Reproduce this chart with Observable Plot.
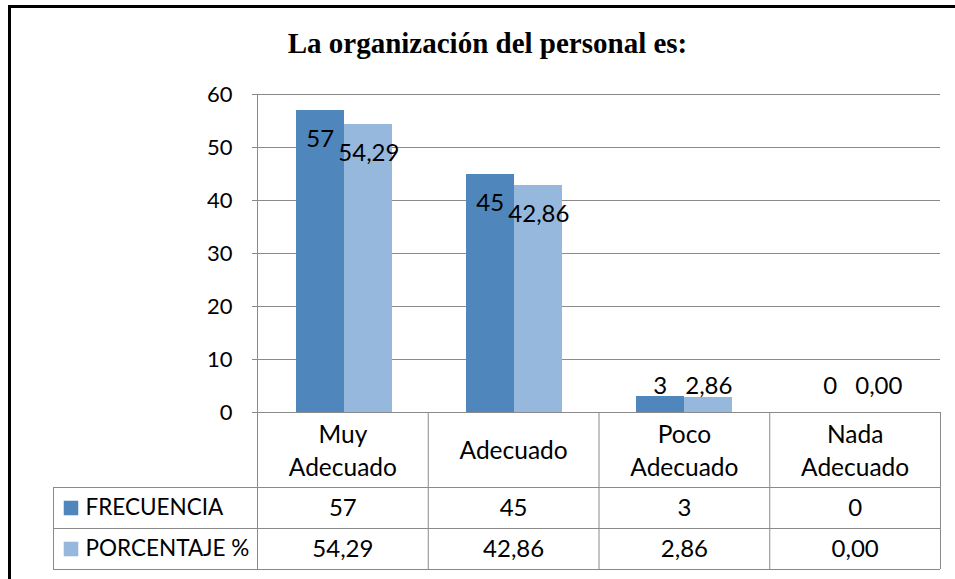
<!DOCTYPE html>
<html>
<head>
<meta charset="utf-8">
<script src="https://cdn.jsdelivr.net/npm/d3@7"></script>
<script src="https://cdn.jsdelivr.net/npm/@observablehq/plot@0.6"></script>
<style>
  html, body { margin: 0; padding: 0; background: #fff; }
  #wrap { position: relative; width: 955px; height: 579px; overflow: hidden; background: #fff; }
  #frame { position: absolute; left: 8px; top: 5px; width: 1000px; height: 700px; border-left: 3px solid #000; border-top: 3px solid #000; box-sizing: border-box; }
  #title { position: absolute; left: 0; top: 29px; width: 975px; text-align: center; font-family: "Liberation Serif", "Times New Roman", serif; font-weight: bold; font-size: 29px; line-height: 29px; color: #000; white-space: nowrap; }
  #chart { position: absolute; left: 0; top: 0; }
  #table { position: absolute; left: 0; top: 412px; }
  svg { overflow: visible; }
</style>
</head>
<body>
<div id="wrap">
  <div id="frame"></div>
  <div id="title">La organización del personal es:</div>
  <div id="chart"></div>
  <div id="table"></div>
</div>
<script>
// ---- data ----
const categories = ["Muy Adecuado", "Adecuado", "Poco Adecuado", "Nada Adecuado"];
const frecuencia = [57, 45, 3, 0];
const porcentaje = [54.29, 42.86, 2.86, 0.00];
const seriesNames = ["FRECUENCIA", "PORCENTAJE %"];
const yTicks = [0, 10, 20, 30, 40, 50, 60];

// ---- styling / layout ----
const darkBlue = "#4F86BC";
const lightBlue = "#97B8DD";
const gridColor = "#8a8a8a";
const font = "Lato, 'Open Sans', sans-serif";
const plotLeft = 257, plotRight = 940, plotTop = 94, plotBottom = 412;
const W = 955;
const bw = (plotRight - plotLeft) / categories.length;
const barW = 48.7;
const gap = (bw - 2 * barW) / 2;
const ppu = (plotBottom - plotTop) / 60;
const fmt = v => v.toFixed(2).replace(".", ",");

const rows = categories.map((c, i) => ({cat: c, i, f: frecuencia[i], p: porcentaje[i]}));

const labelY = v => Math.max(v - 29 / ppu, 26 / ppu);

const chart = Plot.plot({
  width: W,
  height: plotBottom + 2,
  marginLeft: plotLeft,
  marginRight: W - plotRight,
  marginTop: plotTop,
  marginBottom: 2,
  style: {fontFamily: font, fontSize: "22px", color: "#000", background: "transparent"},
  x: {domain: categories, padding: 0, axis: null},
  y: {domain: [0, 60], axis: null},
  marks: [
    Plot.gridY(yTicks, {stroke: gridColor, strokeOpacity: 1}),
    Plot.axisY(yTicks, {tickSize: 5, tickPadding: 20, stroke: gridColor, fill: "#000", fontSize: 22, label: null, anchor: "left"}),
    Plot.frame({anchor: "left", stroke: gridColor}),
    Plot.barY(rows, {x: "cat", y: "f", fill: darkBlue, insetLeft: gap, insetRight: gap + barW, shapeRendering: "crispEdges"}),
    Plot.barY(rows, {x: "cat", y: "p", fill: lightBlue, insetLeft: gap + barW, insetRight: gap, shapeRendering: "crispEdges"}),
    Plot.ruleY([0], {stroke: gridColor}),
    Plot.text(rows, {x: "cat", y: d => labelY(d.f), text: d => String(d.f), dx: -barW / 2, fontSize: 24, fill: "#000"}),
    Plot.text(rows, {x: "cat", y: d => labelY(d.p), text: d => fmt(d.p), dx: barW / 2, fontSize: 24, fill: "#000"})
  ]
});
document.getElementById("chart").appendChild(chart);

// ---- data table below ----
const tableLeft = 53;
const rowH = [75, 41, 41];
const y1 = rowH[0], y2 = rowH[0] + rowH[1], y3 = rowH[0] + rowH[1] + rowH[2];
const lu = (plotLeft - tableLeft) / bw;
const tableH = y3 + 3;

const hLines = [y1, y2, y3];
const vLines = [{x: -lu, a: y1, b: y3}].concat(d3.range(categories.length + 1).map(i => ({x: i, a: 0, b: y3})));
const seriesRows = [
  {name: seriesNames[0], color: darkBlue, y: (y1 + y2) / 2, vals: frecuencia.map(String)},
  {name: seriesNames[1], color: lightBlue, y: (y2 + y3) / 2, vals: porcentaje.map(fmt)}
];
const cells = seriesRows.flatMap(r => r.vals.map((v, i) => ({i, y: r.y, v})));

const table = Plot.plot({
  width: W,
  height: tableH,
  style: {fontFamily: font, fontSize: "23px", color: "#000", background: "transparent"},
  x: {domain: [-lu, categories.length], range: [tableLeft, plotRight], axis: null},
  y: {domain: [0, tableH], range: [0, tableH], axis: null},
  marks: [
    Plot.ruleY(hLines, {y: d => d, x1: -lu, x2: categories.length, stroke: gridColor}),
    Plot.ruleX(vLines, {x: "x", y1: "a", y2: "b", stroke: gridColor}),
    Plot.text(rows, {x: d => d.i + 0.5, y: y1 / 2 - 1.5, text: d => d.cat.replace(" ", "\n"), lineHeight: 1.36, fontSize: 24.5, fill: "#000"}),
    Plot.dot(seriesRows, {x: -lu, y: "y", dx: 17.5, symbol: "square", r: 8.2, fill: "color", stroke: null}),
    Plot.text(seriesRows, {x: -lu, y: "y", dx: 32, text: "name", textAnchor: "start", fontSize: 22.5, fill: "#000"}),
    Plot.text(cells, {x: d => d.i + 0.5, y: "y", text: "v", fontSize: 24, fill: "#000"})
  ]
});
document.getElementById("table").appendChild(table);
</script>
</body>
</html>
